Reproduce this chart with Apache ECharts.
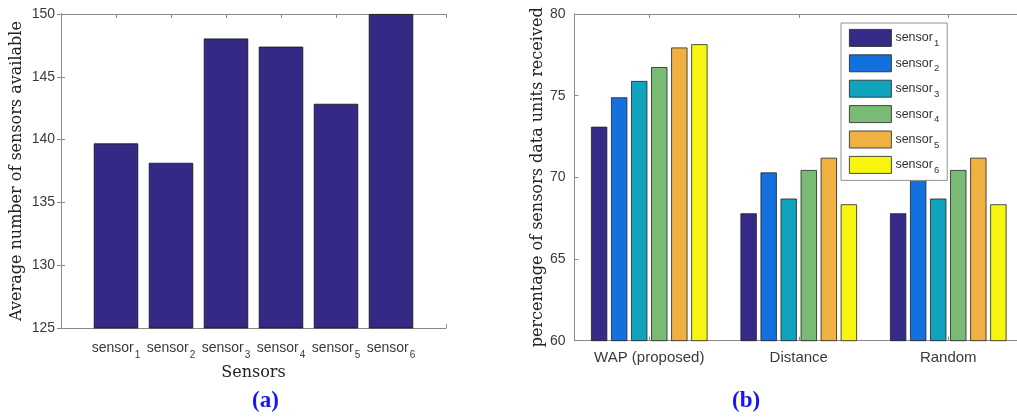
<!DOCTYPE html>
<html>
<head>
<meta charset="utf-8">
<script src="https://cdn.jsdelivr.net/npm/echarts@6/dist/echarts.min.js"></script>
<style>
html,body{margin:0;padding:0;background:#fff;}
#chart{width:1017px;height:417px;}
</style>
</head>
<body>
<div id="chart"></div>
<script>
// ---- data ----
const leftSubscripts = ['1', '2', '3', '4', '5', '6'];
const leftValues = [139.7, 138.15, 148.05, 147.4, 142.85, 150];
const leftTicks = [125, 130, 135, 140, 145, 150];

const rightCategories = ['WAP (proposed)', 'Distance', 'Random'];
const sensorNames = ['sensor1', 'sensor2', 'sensor3', 'sensor4', 'sensor5', 'sensor6'];
const sensor1 = [73.1, 67.8, 67.8];
const sensor2 = [74.9, 70.3, 70.3];
const sensor3 = [75.9, 68.7, 68.7];
const sensor4 = [76.75, 70.45, 70.45];
const sensor5 = [77.95, 71.2, 71.2];
const sensor6 = [78.15, 68.35, 68.35];
const rightTicks = [60, 65, 70, 75, 80];

const sensorColors = ['#352a87', '#1271dc', '#0fa3be', '#79bb74', '#f0b142', '#f8f510'];
const sensorSeries = [sensor1, sensor2, sensor3, sensor4, sensor5, sensor6];

const axisGray = '#8a8a8a';
const labelColor = '#3a3a3a';
const serif = 'DejaVu Serif, serif';
const sans = 'Liberation Sans, Arial, sans-serif';

function tick() {
  return {show: true, inside: true, length: 4, lineStyle: {color: axisGray}};
}

const chart = echarts.init(document.getElementById('chart'), null, {renderer: 'canvas'});

const option = {
  animation: false,
  backgroundColor: '#fff',
  grid: [
    {left: 61, top: 14, width: 385, height: 314, outerBoundsMode: 'none', containLabel: false},
    {left: 574.5, top: 14, width: 448.5, height: 326.7, outerBoundsMode: 'none', containLabel: false}
  ],
  legend: {
    data: sensorNames,
    orient: 'vertical',
    left: 841, top: 23,
    padding: [6, 8, 5, 8],
    icon: 'rect',
    itemWidth: 42, itemHeight: 17, itemGap: 6,
    borderColor: '#909090', borderWidth: 1, backgroundColor: '#fff',
    itemStyle: {borderWidth: 0.8, borderColor: '#222'},
    formatter: function (name) { return '{t|sensor}{s|' + name.slice(6) + '}'; },
    textStyle: {
      fontSize: 12, padding: [0, 0, 0, -1],
      rich: {
        t: {fontSize: 12.5, fontFamily: sans, color: '#333'},
        s: {fontSize: 9.5, fontFamily: sans, color: '#333', padding: [11, 0, 0, 1]}
      }
    }
  },
  xAxis: [
    {
      gridIndex: 0, type: 'value', min: 0, max: 7, interval: 1, position: 'bottom',
      axisLine: {show: true, lineStyle: {color: axisGray, width: 1}},
      axisTick: tick(),
      splitLine: {show: false},
      axisLabel: {
        margin: 9, fontSize: 14,
        formatter: function (v) {
          const i = Math.round(v);
          if (i < 1 || i > 6) return '';
          return '{t|sensor}{s|' + leftSubscripts[i - 1] + '}';
        },
        rich: {
          t: {fontSize: 14, fontFamily: sans, color: labelColor},
          s: {fontSize: 10, fontFamily: sans, color: labelColor, padding: [13, 0, 0, 1]}
        }
      },
      name: 'Sensors', nameLocation: 'middle', nameGap: 34,
      nameTextStyle: {fontFamily: serif, fontSize: 16, color: '#222'}
    },
    {
      gridIndex: 0, type: 'value', min: 0, max: 7, interval: 1, position: 'top',
      axisLine: {show: true, lineStyle: {color: axisGray, width: 1}},
      axisTick: tick(),
      splitLine: {show: false}, axisLabel: {show: false}
    },
    {
      gridIndex: 1, type: 'category', data: rightCategories, position: 'bottom',
      axisLine: {show: true, lineStyle: {color: axisGray, width: 1}},
      axisTick: Object.assign(tick(), {alignWithLabel: true}),
      axisLabel: {margin: 10, fontSize: 15, fontFamily: sans, color: labelColor}
    },
    {
      gridIndex: 1, type: 'category', data: rightCategories, position: 'top',
      axisLine: {show: true, lineStyle: {color: axisGray, width: 1}},
      axisTick: Object.assign(tick(), {alignWithLabel: true}),
      axisLabel: {show: false}
    }
  ],
  yAxis: [
    {
      gridIndex: 0, type: 'value', min: leftTicks[0], max: leftTicks[leftTicks.length - 1], interval: 5,
      position: 'left',
      axisLine: {show: true, lineStyle: {color: axisGray, width: 1}},
      axisTick: tick(),
      splitLine: {show: false},
      axisLabel: {margin: 6, fontSize: 14, fontFamily: sans, color: labelColor},
      name: 'Average number of sensors available', nameLocation: 'middle', nameGap: 36,
      nameTextStyle: {fontFamily: serif, fontSize: 16, color: '#222'}
    },
    {
      gridIndex: 0, type: 'value', min: leftTicks[0], max: leftTicks[leftTicks.length - 1], interval: 5,
      position: 'right',
      axisLine: {show: true, lineStyle: {color: axisGray, width: 1}},
      axisTick: tick(),
      splitLine: {show: false}, axisLabel: {show: false}
    },
    {
      gridIndex: 1, type: 'value', min: rightTicks[0], max: rightTicks[rightTicks.length - 1], interval: 5,
      position: 'left',
      axisLine: {show: true, lineStyle: {color: axisGray, width: 1}},
      axisTick: tick(),
      splitLine: {show: false},
      axisLabel: {margin: 9, fontSize: 14, fontFamily: sans, color: labelColor},
      name: 'percentage of sensors data units received', nameLocation: 'middle', nameGap: 29,
      nameTextStyle: {fontFamily: serif, fontSize: 16, color: '#222'}
    },
    {
      gridIndex: 1, type: 'value', min: rightTicks[0], max: rightTicks[rightTicks.length - 1], interval: 5,
      position: 'right',
      axisLine: {show: true, lineStyle: {color: axisGray, width: 1}},
      axisTick: tick(),
      splitLine: {show: false}, axisLabel: {show: false}
    }
  ],
  graphic: [
    {type: 'text', left: 252, top: 390, style: {text: '(a)', fontFamily: 'Liberation Serif, Times New Roman, serif', fontWeight: 'bold', fontSize: 23, fill: '#1616f0'}},
    {type: 'text', left: 732, top: 390, style: {text: '(b)', fontFamily: 'Liberation Serif, Times New Roman, serif', fontWeight: 'bold', fontSize: 23, fill: '#1616f0'}}
  ],
  series: [
    {
      type: 'bar', name: 'left', xAxisIndex: 0, yAxisIndex: 0,
      data: leftValues.map(function (v, i) { return [i + 1, v]; }),
      barWidth: 44.4, clip: true,
      itemStyle: {color: '#342a85', borderColor: '#111', borderWidth: 0.8}
    }
  ].concat(sensorNames.map(function (n, k) {
    return {
      type: 'bar', name: n, xAxisIndex: 2, yAxisIndex: 2,
      data: sensorSeries[k], barWidth: 16.3, barGap: '23%', clip: true,
      itemStyle: {color: sensorColors[k], borderColor: '#222', borderWidth: 0.8}
    };
  }))
};
chart.setOption(option);
</script>
</body>
</html>
